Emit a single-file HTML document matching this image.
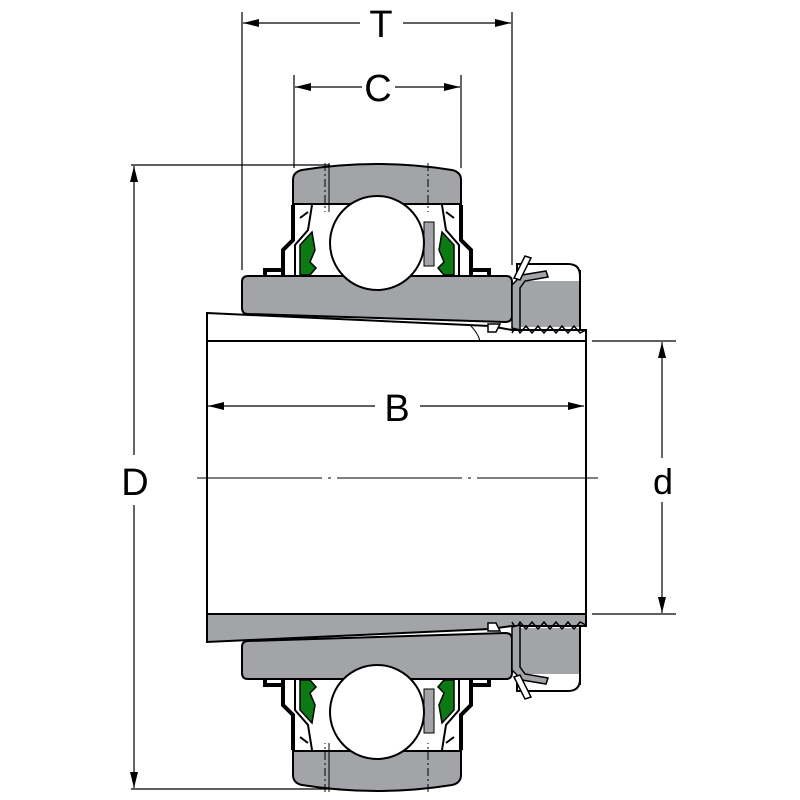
<!DOCTYPE html>
<html><head><style>html,body{margin:0;padding:0;background:#fff}svg{display:block}</style></head>
<body>
<svg width="800" height="800" viewBox="0 0 800 800" xmlns="http://www.w3.org/2000/svg" font-family="Liberation Sans, sans-serif">
<defs>
<marker id="a" markerWidth="16" markerHeight="8" refX="16" refY="4" orient="auto" markerUnits="userSpaceOnUse"><path d="M0,0 L16,4 L0,8 z" fill="#000"/></marker>
<g id="brg">
  <path d="M293,180 Q293,172 302,170 Q377,158 452,170 Q461,172 461,180 L461,204 L293,204 Z" fill="#a2a4a7" stroke="#000" stroke-width="2"/>
  <rect x="300" y="205" width="150" height="71" fill="#fff"/>
  <line x1="300" y1="204" x2="454" y2="204" stroke="#000" stroke-width="1.5"/>
  <rect x="424" y="222" width="10" height="44" fill="#a2a4a7" stroke="#000" stroke-width="1"/>
  <line x1="325" y1="163" x2="325" y2="212" stroke="#000" stroke-width="1" stroke-dasharray="8,3,2,3"/>
  <line x1="329" y1="163" x2="329" y2="212" stroke="#000" stroke-width="1"/>
  <line x1="428" y1="163" x2="428" y2="212" stroke="#000" stroke-width="1" stroke-dasharray="8,3,2,3"/>
  <path d="M293,205 L293,240 L283,250 L283,275" fill="none" stroke="#000" stroke-width="4"/>
  <path d="M308,212 L300,218 M312,205 L308,230 L295,245 L295,275" fill="none" stroke="#000" stroke-width="2"/>
  <path d="M300,245 L312,232 L315,250 L310,262 L316,268 L310,275 L300,275 Z" fill="#0a7a12" stroke="#000" stroke-width="1.5"/>
  <path d="M265,275 L265,270 L283,270" fill="none" stroke="#000" stroke-width="4"/>
  <path d="M461,205 L461,240 L471,250 L471,275" fill="none" stroke="#000" stroke-width="4"/>
  <path d="M446,212 L454,218 M442,205 L446,230 L459,245 L459,275" fill="none" stroke="#000" stroke-width="2"/>
  <path d="M454,245 L442,232 L439,250 L444,262 L438,268 L444,275 L454,275 Z" fill="#0a7a12" stroke="#000" stroke-width="1.5"/>
  <path d="M489,275 L489,270 L471,270" fill="none" stroke="#000" stroke-width="4"/>
  <path d="M248,276 L506,276 Q512,276 512,282 L512,316 Q512,322 505,322 L248,314 Q242,314 242,308 L242,282 Q242,276 248,276 Z" fill="#a2a4a7" stroke="#000" stroke-width="2"/>
  <circle cx="377" cy="243" r="47" fill="#fff" stroke="#000" stroke-width="2"/>
  <path d="M517,278 L517,264 L568,264 Q580,264 580,276 L580,326 L517,326 Z" fill="#fff" stroke="#000" stroke-width="2"/>
  <rect x="518" y="281" width="61" height="46" fill="#a2a4a7"/>
  <path d="M580,270 L580,330" stroke="#000" stroke-width="2"/>
  <path d="M512,333 L516,326 L520,333 L526,326 L532,333 L538,326 L544,333 L550,326 L556,333 L562,326 L568,333 L574,326 L580,333 L586,330" fill="none" stroke="#000" stroke-width="1.5"/>
  <path d="M512,328 L512,285 L522,275 L546,271 L548,277 L525,281 L520,288 L520,330 Z" fill="#a2a4a7" stroke="#000" stroke-width="1.5"/>
  <path d="M514,278 L525,256 L531,258 L520,280 Z" fill="#fff" stroke="#000" stroke-width="1.5"/>
  <path d="M488,332 L488,324 L500,324 L496,332 Z" fill="#fff" stroke="#000" stroke-width="1.5"/>
</g>
</defs>

<path d="M207,313 L490,326 L512,330 L586,330 L586,341 L207,341 Z" fill="#fff" stroke="#000" stroke-width="2"/>
<path d="M470,325 Q478,333 480,341" fill="none" stroke="#000" stroke-width="1"/>
<path d="M207,614 L586,614 L586,626 L512,626 L490,629 L207,642 Z" fill="#a2a4a7" stroke="#000" stroke-width="2"/>
<rect x="207" y="341" width="379" height="273" fill="#fff" stroke="#000" stroke-width="2"/>

<use href="#brg"/>
<use href="#brg" transform="translate(0,955) scale(1,-1)"/>

<line x1="197" y1="478" x2="598" y2="478" stroke="#000" stroke-width="1" stroke-dasharray="125,6,3,6"/>

<line x1="242" y1="12" x2="242" y2="270" stroke="#000" stroke-width="1.2"/>
<line x1="512" y1="12" x2="512" y2="265" stroke="#000" stroke-width="1.2"/>
<line x1="360" y1="23" x2="243" y2="23" stroke="#000" stroke-width="1.2" marker-end="url(#a)"/>
<line x1="403" y1="23" x2="511" y2="23" stroke="#000" stroke-width="1.2" marker-end="url(#a)"/>
<text x="381" y="37" font-size="38" text-anchor="middle">T</text>
<line x1="294" y1="75" x2="294" y2="168" stroke="#000" stroke-width="1.2"/>
<line x1="461" y1="75" x2="461" y2="168" stroke="#000" stroke-width="1.2"/>
<line x1="362" y1="87" x2="295" y2="87" stroke="#000" stroke-width="1.2" marker-end="url(#a)"/>
<line x1="395" y1="87" x2="460" y2="87" stroke="#000" stroke-width="1.2" marker-end="url(#a)"/>
<text x="378" y="101" font-size="38" text-anchor="middle">C</text>
<line x1="131" y1="165" x2="330" y2="165" stroke="#000" stroke-width="1.2"/>
<line x1="131" y1="789" x2="340" y2="789" stroke="#000" stroke-width="1.2"/>
<line x1="134" y1="455" x2="134" y2="166" stroke="#000" stroke-width="1.2" marker-end="url(#a)"/>
<line x1="134" y1="505" x2="134" y2="788" stroke="#000" stroke-width="1.2" marker-end="url(#a)"/>
<text x="135" y="495" font-size="38" text-anchor="middle">D</text>
<line x1="592" y1="341" x2="676" y2="341" stroke="#000" stroke-width="1.2"/>
<line x1="592" y1="614" x2="676" y2="614" stroke="#000" stroke-width="1.2"/>
<line x1="662" y1="458" x2="662" y2="342" stroke="#000" stroke-width="1.2" marker-end="url(#a)"/>
<line x1="662" y1="502" x2="662" y2="613" stroke="#000" stroke-width="1.2" marker-end="url(#a)"/>
<text x="663" y="494" font-size="36" text-anchor="middle">d</text>
<line x1="375" y1="406" x2="208" y2="406" stroke="#000" stroke-width="1.2" marker-end="url(#a)"/>
<line x1="420" y1="406" x2="584" y2="406" stroke="#000" stroke-width="1.2" marker-end="url(#a)"/>
<text x="397" y="421" font-size="38" text-anchor="middle">B</text>
</svg>
</body></html>
